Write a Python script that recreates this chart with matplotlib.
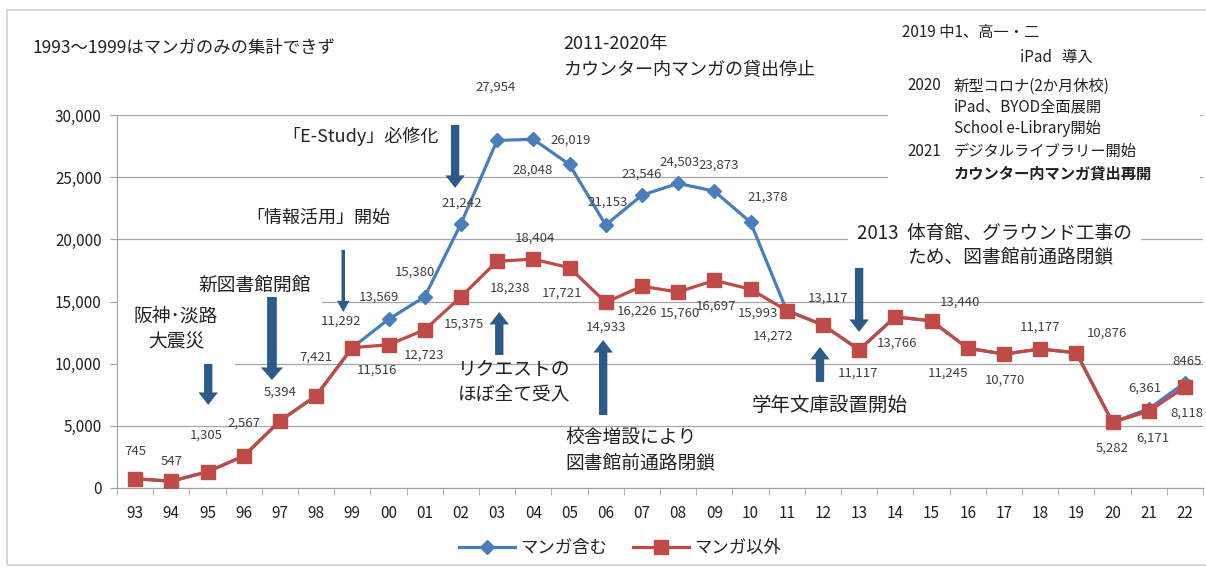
import matplotlib
matplotlib.use('Agg')
import matplotlib.pyplot as plt
from matplotlib.ticker import FuncFormatter
from matplotlib.patches import Rectangle
import numpy as np

plt.rcParams['font.family'] = ['Noto Sans CJK JP', 'DejaVu Sans']

# data
years = ['93', '94', '95', '96', '97', '98', '99', '00', '01', '02', '03', '04', '05', '06', '07',
         '08', '09', '10', '11', '12', '13', '14', '15', '16', '17', '18', '19', '20', '21', '22']
manga_in = [745, 547, 1305, 2567, 5394, 7421, 11292, 13569, 15380, 21242, 27954, 28048, 26019, 21153,
            23546, 24503, 23873, 21378, 14272, 13117, 11117, 13766, 13440, 11245, 10770, 11177, 10876,
            5282, 6361, 8465]
manga_out = [745, 547, 1305, 2567, 5394, 7421, 11292, 11516, 12723, 15375, 18238, 18404, 17721, 14933,
             16226, 15760, 16697, 15993, 14272, 13117, 11117, 13766, 13440, 11245, 10770, 11177, 10876,
             5282, 6171, 8118]
blue_label_idx = [7, 8, 9, 10, 11, 12, 13, 14, 15, 16, 17, 28, 29]

# label offsets in pixels (dx, dy)
red_off = [(0, 27), (0, 20), (-1, 37), (0, 33), (0, 29), (0, 39), (-11, 26), (-12, -25), (-1, -25),
           (3, -27), (13, -27), (2, 21), (-7, -25), (0, -25), (-5, -25), (2, -21), (2, -26), (7, -24),
           (-14, -26), (5, 27), (-1, -23), (2, -26), (28, 19), (-20, -25), (1, -26), (0, 22), (31, 20),
           (0, -26), (4, -27), (2, -26)]
blue_off = [(-10, 22), (-10, 25), (1, 21), (-1, 53), (-1, -31), (1, 24), (2, 23), (0, 21), (2, 21),
            (4, 26), (17, 25), (-4, 21), (2, 21)]

BLUE = '#4A7EBB'
RED = '#BE4B48'
ARROW = '#2E5A88'
TXT = '#222222'
LBL = '#404040'

fig = plt.figure(figsize=(12.06, 5.69), dpi=100)
ax = fig.add_axes([117 / 1206, 1 - 488 / 569, 1086 / 1206, 373 / 569])

x = np.arange(len(years))
ax.plot(x, manga_in, color=BLUE, lw=2.3, marker='D', ms=7, zorder=3, label='マンガ含む')
ax.plot(x, manga_out, color=RED, lw=2.3, marker='s', ms=9.5, zorder=4, label='マンガ以外')

for i, v in enumerate(manga_out):
    dx, dy = red_off[i]
    ax.annotate(f'{v:,}', (x[i], v), xytext=(dx, dy), textcoords='offset pixels',
                ha='center', va='center', fontsize=9.5, color=LBL, zorder=6)
for k, i in enumerate(blue_label_idx):
    dx, dy = blue_off[k]
    v = manga_in[i]
    s = f'{v:,}' if i != 29 else str(v)
    ax.annotate(s, (x[i], v), xytext=(dx, dy), textcoords='offset pixels',
                ha='center', va='center', fontsize=9.5, color=LBL, zorder=6)

ax.set_xlim(-0.5, len(years) - 0.5)
ax.set_ylim(0, 30000)
ax.set_yticks(np.arange(0, 30001, 5000))
ax.yaxis.set_major_formatter(FuncFormatter(lambda v, p: f'{int(v):,}'))
ax.set_xticks(x)
ax.set_xticklabels(years)
ax.set_xticks(np.arange(-0.5, len(years), 1), minor=True)
ax.tick_params(axis='x', which='major', length=0, pad=12, labelsize=11, labelcolor=TXT)
ax.tick_params(axis='x', which='minor', length=5, color='#A0A0A0', direction='out')
ax.tick_params(axis='y', length=5, color='#A0A0A0', direction='out', labelsize=11, labelcolor=TXT, pad=6)
ax.grid(axis='y', color='#A6A6A6', lw=0.9)
ax.set_axisbelow(True)
for s in ['top', 'right']:
    ax.spines[s].set_visible(False)
for s in ['left', 'bottom']:
    ax.spines[s].set_color('#A0A0A0')

# annotation texts inside plot
wbox = dict(boxstyle='square,pad=0.5', fc='white', ec='none')
ax.text(1.13, 12790, '阪神･淡路\n大震災', ha='center', va='center', fontsize=13.5, color=TXT,
        linespacing=1.3, bbox=dict(boxstyle='square,pad=0.9', fc='white', ec='none'), zorder=2)
ax.text(3.31, 16330, '新図書館開館', ha='center', va='center', fontsize=13.5, color=TXT,
        bbox=dict(boxstyle='square,pad=0.6', fc='white', ec='none'), zorder=2)
ax.text(5.06, 21720, '「情報活用」開始', ha='center', va='center', fontsize=13, color=TXT)
ax.text(6.22, 28240, '「E-Study」必修化', ha='center', va='center', fontsize=13, color=TXT)
ax.text(8.92, 8530, 'リクエストの\nほぼ全て受入', ha='left', va='center', fontsize=13.5, color=TXT,
        linespacing=1.25)
ax.text(11.88, 3060, '校舎増設により\n図書館前通路閉鎖', ha='left', va='center', fontsize=13.5,
        color=TXT, linespacing=1.25)
ax.text(17.04, 6680, '学年文庫設置開始', ha='left', va='center', fontsize=14, color=TXT)
ax.text(19.94, 20515, '2013  体育館、グラウンド工事の', ha='left', va='center', fontsize=13.5,
        color=TXT, bbox=wbox, zorder=2)
ax.text(21.33, 18584, 'ため、図書館前通路閉鎖', ha='left', va='center', fontsize=13.5, color=TXT)

# arrows (tail -> head)
def arrow(x0, y0, y1, tw=0.6, hw=1.4, hl=0.9):
    ax.annotate('', xy=(x0, y1), xytext=(x0, y0),
                arrowprops=dict(arrowstyle=f'simple,head_width={hw},head_length={hl},tail_width={tw}',
                                fc=ARROW, ec='none', shrinkA=0, shrinkB=0), zorder=5)

arrow(8.84, 29200, 24135)
arrow(5.75, 19150, 14160, tw=0.25, hw=0.9, hl=0.8)
arrow(3.78, 15365, 8690, tw=0.7, hw=1.6)
arrow(2.02, 9975, 6680)
arrow(10.06, 10700, 14160)
arrow(12.93, 5870, 11900)
arrow(18.92, 8530, 11345)
arrow(20.0, 17700, 12550)

# texts above the plot
fig.text(32 / 1206, 1 - 48 / 569, '1993〜1999はマンガのみの集計できず', ha='left', va='center',
         fontsize=12.5, color=TXT)
fig.text(563 / 1206, 1 - 44 / 569, '2011-2020年', ha='left', va='center', fontsize=13, color=TXT)
fig.text(563 / 1206, 1 - 69 / 569, 'カウンター内マンガの貸出停止', ha='left', va='center',
         fontsize=13, color=TXT)

fig.patches.append(Rectangle((888 / 1206, 1 - 188 / 569), 312 / 1206, 168 / 569,
                             transform=fig.transFigure, fc='white', ec='none', zorder=2.5))
right_lines = [
    (902, 33, '2019 中1、高一・二', 'normal'),
    (1020, 57, 'iPad   導入', 'normal'),
    (907, 86, '2020', 'normal'),
    (954, 86, '新型コロナ(2か月休校)', 'normal'),
    (954, 107, 'iPad、BYOD全面展開', 'normal'),
    (954, 128, 'School e-Library開始', 'normal'),
    (907, 151, '2021', 'normal'),
    (954, 151, 'デジタルライブラリー開始', 'normal'),
    (954, 173, 'カウンター内マンガ貸出再開', 'bold'),
]
for px, py, s, w in right_lines:
    fig.text(px / 1206, 1 - py / 569, s, ha='left', va='center', fontsize=11, color=TXT,
             fontweight=w, zorder=3)

# chart border
fig.patches.append(Rectangle((7 / 1206, 4 / 569), 1.0, 1 - 14 / 569, transform=fig.transFigure,
                             fill=False, ec='#D0D0D0', lw=1.2, zorder=1))

fig.legend(loc='center', bbox_to_anchor=(620 / 1206, 1 - 548 / 569), ncol=2, frameon=False,
           fontsize=12.5, handlelength=3.2, columnspacing=1.5, handletextpad=0.3,
           labelcolor=TXT)

fig.savefig('out.png', dpi=100)
